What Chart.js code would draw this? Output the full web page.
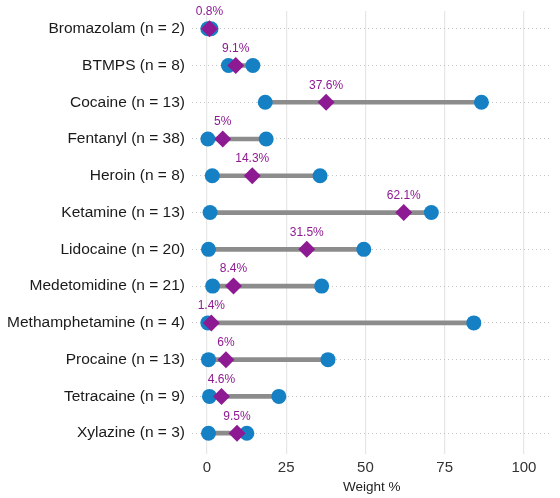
<!DOCTYPE html>
<html><head><meta charset="utf-8">
<script src="https://cdn.jsdelivr.net/npm/chart.js@4"></script>
<style>html,body{margin:0;padding:0;background:#fff;}#wrap{width:560px;height:498px;}</style>
</head><body><div id="wrap"><canvas id="c" width="560" height="498"></canvas></div>
<script>
const categories = ["Bromazolam (n = 2)","BTMPS (n = 8)","Cocaine (n = 13)","Fentanyl (n = 38)","Heroin (n = 8)","Ketamine (n = 13)","Lidocaine (n = 20)","Medetomidine (n = 21)","Methamphetamine (n = 4)","Procaine (n = 13)","Tetracaine (n = 9)","Xylazine (n = 3)"];
const minValues = [0.3, 6.8, 18.4, 0.3, 1.7, 1.0, 0.5, 1.8, 0.3, 0.5, 0.8, 0.5];
const maxValues = [1.3, 14.5, 86.6, 18.7, 35.7, 70.8, 49.5, 36.2, 84.2, 38.2, 22.7, 12.6];
const meanValues = [0.8, 9.1, 37.6, 5, 14.3, 62.1, 31.5, 8.4, 1.4, 6, 4.6, 9.5];
const xTicks = [0, 25, 50, 75, 100];

const BLUE = '#1580C4', PURPLE = '#8E1A93', GRAY = '#8c8c8c';
const FONT = "'Liberation Sans', Arial, sans-serif";

const segData = categories.map((c,i)=>({x:[minValues[i], maxValues[i]], y:i}));
const minData = categories.map((c,i)=>({x:minValues[i], y:i}));
const maxData = categories.map((c,i)=>({x:maxValues[i], y:i}));
const meanData = categories.map((c,i)=>({x:meanValues[i], y:i}));

const labelPlugin = {
  id:'meanLabels',
  afterDatasetsDraw(chart){
    const ctx = chart.ctx, xs = chart.scales.x, ys = chart.scales.y;
    ctx.save();
    ctx.fillStyle = PURPLE;
    ctx.font = "12px " + FONT;
    ctx.textAlign = 'center';
    ctx.textBaseline = 'middle';
    meanValues.forEach((v,i)=>{
      ctx.fillText(v + '%', xs.getPixelForValue(v), ys.getPixelForValue(i) - 17);
    });
    ctx.restore();
  }
};

new Chart(document.getElementById('c'), {
  type:'bar',
  data:{datasets:[
    {type:'scatter', data:meanData, pointStyle:'rectRot', pointRadius:8.5, backgroundColor:PURPLE, borderColor:PURPLE, borderWidth:0, order:0},
    {type:'scatter', data:minData, pointStyle:'circle', pointRadius:7.5, backgroundColor:BLUE, borderColor:BLUE, borderWidth:0, order:1},
    {type:'scatter', data:maxData, pointStyle:'circle', pointRadius:7.5, backgroundColor:BLUE, borderColor:BLUE, borderWidth:0, order:1},
    {type:'bar', data:segData, backgroundColor:GRAY, barThickness:4, borderSkipped:false, order:2}
  ]},
  options:{
    indexAxis:'y',
    responsive:false, animation:false,
    layout:{padding:{top:2, right:8, left:0, bottom:0}},
    plugins:{legend:{display:false}, tooltip:{enabled:false}},
    scales:{
      x:{type:'linear', min:-4.7, max:108.7, offset:false,
        afterBuildTicks(s){ s.ticks = xTicks.map(v=>({value:v})); },
        afterFit(s){ s.height = 44; },
        grid:{color:'#e6e6e6', lineWidth:1.2, drawTicks:false, offset:false},
        border:{display:false},
        ticks:{color:'#333', font:{size:15, family:FONT}, padding:5},
        title:{display:true, text:'Weight %', color:'#222', font:{size:13.5, family:FONT}, padding:{top:1,bottom:3}}
      },
      y:{type:'linear', min:-0.485, max:11.566, reverse:true, offset:false,
        afterBuildTicks(s){ s.ticks = categories.map((c,i)=>({value:i})); },
        afterFit(s){ s.width = 192; },
        grid:{color:'#c4c4c4', lineWidth:1.1, drawTicks:false, offset:false},
        border:{display:false, dash:[1,3]},
        ticks:{color:'#1a1a1a', font:{size:15.5, family:FONT, lineHeight:0.5}, padding:7,
          callback:(v)=>categories[v]}
      }
    }
  },
  plugins:[labelPlugin]
});
</script></body></html>
